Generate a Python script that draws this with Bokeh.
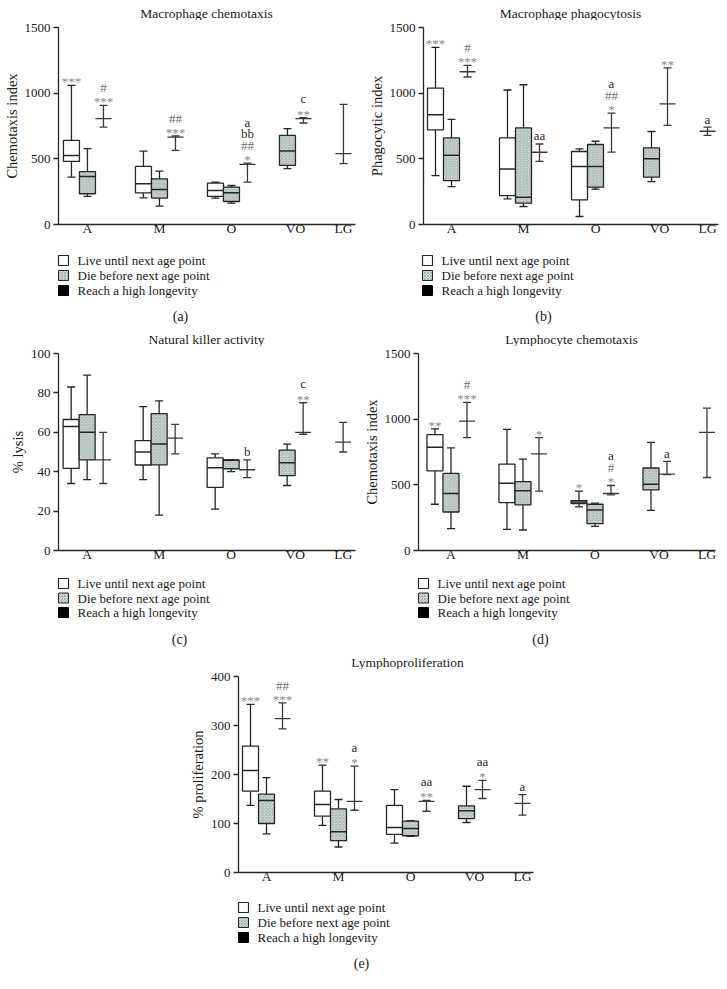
from bokeh.plotting import figure
from bokeh.models import Range1d, FixedTicker, Spacer, ColumnDataSource
from bokeh.layouts import row, column
from bokeh.core.properties import value
from bokeh.embed import file_html
from bokeh.resources import INLINE

SERIF = "Liberation Serif"

GROUPS = ["A", "M", "O", "VO", "LG"]
TICK_POS = [1, 5.5, 10, 14, 17]
GROUP_BASE = {"A": 0.0, "M": 4.5, "O": 9.0, "VO": 12.5, "LG": 15.0}
SERIES_OFFSET = {"live": 0, "die": 1, "long": 2}
LEGEND_LABELS = ["Live until next age point", "Die before next age point", "Reach a high longevity"]

# ---------------- (a) Macrophage chemotaxis ----------------
A_LIVE = dict(group=["A", "M", "O"], low=[361, 203, 201], q1=[480, 241, 214],
              med=[526, 310, 259], q3=[640, 442, 315], high=[1060, 559, 323])
A_DIE = dict(group=["A", "M", "O", "VO"], low=[214, 140, 163, 425], q1=[234, 201, 175, 450],
             med=[365, 267, 241, 559], q3=[402, 348, 285, 679], high=[577, 407, 297, 730])
A_LONG = dict(group=["A", "M", "O", "VO", "LG"], mean=[806, 666, 458, 806, 539],
              low=[742, 564, 323, 773, 463], high=[907, 674, 468, 813, 915])
A_MARKS = [("A", "live", ["***"]), ("A", "long", ["***", "#"]), ("M", "long", ["***", "##"]),
           ("O", "long", ["*", "##", "bb", "a"]), ("VO", "long", ["**", "c"])]

# ---------------- (b) Macrophage phagocytosis ----------------
B_LIVE = dict(group=["A", "M", "O"], low=[372, 195, 61], q1=[720, 220, 188],
              med=[836, 423, 441], q3=[1039, 659, 556], high=[1348, 1024, 576])
B_DIE = dict(group=["A", "M", "O", "VO"], low=[289, 137, 269, 327], q1=[334, 162, 284, 360],
             med=[527, 208, 441, 500], q3=[659, 735, 609, 584], high=[801, 1064, 634, 708])
B_LONG = dict(group=["A", "M", "O", "VO", "LG"], mean=[1163, 550, 736, 919, 710],
              low=[1123, 481, 551, 754, 678], high=[1211, 613, 848, 1193, 741])
B_MARKS = [("A", "live", ["***"]), ("A", "long", ["***", "#"]), ("M", "long", ["aa"]),
           ("O", "long", ["*", "##", "a"]), ("VO", "long", ["**"]), ("LG", "long", ["a"])]

# ---------------- (c) Natural killer activity ----------------
C_LIVE = dict(group=["A", "M", "O"], low=[34, 36, 21], q1=[41.7, 43.4, 32],
              med=[63, 50, 42], q3=[66.5, 55.8, 47], high=[83, 73, 49])
C_DIE = dict(group=["A", "M", "O", "VO"], low=[36, 18, 40, 33], q1=[46, 43.5, 41.5, 38],
             med=[60, 54, 45.8, 44.5], q3=[69, 69.5, 46, 51], high=[89, 76, 46, 54])
C_LONG = dict(group=["A", "M", "O", "VO", "LG"], mean=[46, 57, 41, 60, 55],
              low=[34, 49, 37, 59, 50], high=[60, 64, 46, 75, 65])
C_MARKS = [("O", "long", ["b"]), ("VO", "long", ["**", "c"])]

# ---------------- (d) Lymphocyte chemotaxis ----------------
D_LIVE = dict(group=["A", "M", "O"], low=[352, 161, 332], q1=[607, 365, 358],
              med=[786, 513, 370], q3=[883, 658, 380], high=[926, 923, 452])
D_DIE = dict(group=["A", "M", "O", "VO"], low=[166, 156, 184, 306], q1=[293, 347, 204, 462],
             med=[434, 454, 309, 505], q3=[587, 525, 352, 628], high=[781, 696, 360, 824])
D_LONG = dict(group=["A", "M", "O", "VO", "LG"], mean=[985, 735, 434, 582, 900],
              low=[860, 452, 423, 577, 556], high=[1128, 860, 495, 679, 1084])
D_MARKS = [("A", "live", ["**"]), ("A", "long", ["***", "#"]), ("M", "long", ["*"]),
           ("O", "live", ["*"]), ("O", "long", ["*", "#", "a"]), ("VO", "long", ["a"])]

# ---------------- (e) Lymphoproliferation ----------------
E_LIVE = dict(group=["A", "M", "O"], low=[137, 96, 60], q1=[166, 115, 78],
              med=[208, 139, 92], q3=[258, 166, 137], high=[343, 219, 169])
E_DIE = dict(group=["A", "M", "O", "VO"], low=[79, 52, 74, 102], q1=[100, 65, 75, 110],
             med=[147, 83, 90, 126], q3=[160, 130, 105, 136], high=[193.5, 149, 106, 176])
E_LONG = dict(group=["A", "M", "O", "VO", "LG"], mean=[314, 145, 145, 169, 141],
              low=[293, 127, 125, 151, 117], high=[346, 217, 147, 188, 159])
E_MARKS = [("A", "live", ["***"]), ("A", "long", ["***", "##"]), ("M", "live", ["**"]),
           ("M", "long", ["*", "a"]), ("O", "long", ["**", "aa"]), ("VO", "long", ["*", "aa"]),
           ("LG", "long", ["a"])]

# ---------------- styles ----------------
LINE = "#262626"
BAR = "#3a3a3a"
HATCH_FILL = "#d6dfdb"
HATCH_COLOR = "#6d7d76"
STAR_COLOR = "#8a8a8a"
HASH_COLOR = "#6e6e6e"
LETTER_COLOR = "#2a2a2a"
TEXT = "#1a1a1a"
PX_PER_UNIT = 16.0


def xpos(group, series):
    return GROUP_BASE[group] + SERIES_OFFSET[series]


def draw_boxes(p, d, series, hatched):
    xs = [xpos(g, series) for g in d["group"]]
    src = ColumnDataSource(dict(
        x=xs, l=[x - 0.5 for x in xs], r=[x + 0.5 for x in xs],
        cl=[x - 0.25 for x in xs], cr=[x + 0.25 for x in xs],
        low=d["low"], q1=d["q1"], med=d["med"], q3=d["q3"], high=d["high"]))
    p.segment("x", "q3", "x", "high", source=src, line_color=LINE, line_width=1.3)
    p.segment("x", "low", "x", "q1", source=src, line_color=LINE, line_width=1.3)
    p.segment("cl", "high", "cr", "high", source=src, line_color=LINE, line_width=1.3)
    p.segment("cl", "low", "cr", "low", source=src, line_color=LINE, line_width=1.3)
    if hatched:
        p.quad(left="l", right="r", bottom="q1", top="q3", source=src, fill_color=HATCH_FILL,
               hatch_pattern="diagonal_cross", hatch_scale=3.5, hatch_color=HATCH_COLOR,
               hatch_alpha=0.45, hatch_weight=1.0, line_color=LINE, line_width=1.3)
    else:
        p.quad(left="l", right="r", bottom="q1", top="q3", source=src, fill_color="white",
               line_color=LINE, line_width=1.3)
    p.segment("l", "med", "r", "med", source=src, line_color=LINE, line_width=1.5)


def draw_long(p, d):
    xs = [xpos(g, "long") for g in d["group"]]
    src = ColumnDataSource(dict(
        x=xs, l=[x - 0.5 for x in xs], r=[x + 0.5 for x in xs],
        cl=[x - 0.25 for x in xs], cr=[x + 0.25 for x in xs],
        low=d["low"], mean=d["mean"], high=d["high"]))
    p.segment("x", "low", "x", "high", source=src, line_color=BAR, line_width=1.3)
    p.segment("cl", "high", "cr", "high", source=src, line_color=BAR, line_width=1.3)
    p.segment("cl", "low", "cr", "low", source=src, line_color=BAR, line_width=1.3)
    p.segment("l", "mean", "r", "mean", source=src, line_color=BAR, line_width=1.3)


def draw_marks(p, marks, live, die, long_):
    tops = {}
    for d, s in ((live, "live"), (die, "die"), (long_, "long")):
        for g, h in zip(d["group"], d["high"]):
            tops[(g, s)] = h
    xs, ys, txt, off, col = [], [], [], [], []
    for g, s, lines in marks:
        for i, t in enumerate(lines):
            xs.append(xpos(g, s))
            ys.append(tops[(g, s)])
            txt.append(t)
            o = -(7.0 + 10.8 * i)
            if "*" in t:
                o += 3.5
                col.append(STAR_COLOR)
            elif "#" in t:
                col.append(HASH_COLOR)
            else:
                o -= 1.0
                col.append(LETTER_COLOR)
            off.append(o)
    src = ColumnDataSource(dict(x=xs, y=ys, t=txt, o=off, c=col))
    p.text("x", "y", text="t", y_offset="o", text_color="c", source=src,
           text_font=value(SERIF), text_font_size="13px", text_align="center",
           text_baseline="middle")


def blank_figure(width, height):
    q = figure(width=width, height=height, output_backend="svg", toolbar_location=None,
               title=None, frame_align=False,
               x_range=Range1d(0, width), y_range=Range1d(height, 0),
               x_axis_location=None, y_axis_location=None,
               min_border_left=0, min_border_right=0, min_border_top=0, min_border_bottom=0)
    q.outline_line_color = None
    q.xgrid.visible = False
    q.ygrid.visible = False
    q.background_fill_color = "white"
    q.border_fill_color = "white"
    return q


def make_title(width, height, text, cx, cy):
    q = blank_figure(width, height)
    q.text(x=[cx], y=[cy], text=[text], text_font=value(SERIF), text_font_size="13.5px",
           text_baseline="middle", text_align="center", text_color=TEXT)
    return q


def make_panel(ylabel, yend, yticks, live, die, long_, marks,
               width, left, right, top, frame_h, bottom, x_start):
    height = top + frame_h + bottom
    frame_w = width - left - right
    p = figure(width=width, height=height, output_backend="svg", toolbar_location=None,
               title=None, frame_align=False,
               x_range=Range1d(x_start, x_start + frame_w / PX_PER_UNIT),
               y_range=Range1d(0, yend),
               min_border_left=left, min_border_right=right,
               min_border_top=top, min_border_bottom=bottom)
    p.outline_line_color = None
    p.xgrid.visible = False
    p.ygrid.visible = False
    p.background_fill_color = "white"
    p.border_fill_color = "white"

    ya = p.yaxis[0]
    ya.ticker = FixedTicker(ticks=yticks)
    ya.axis_label = ylabel
    ya.axis_label_text_font = SERIF
    ya.axis_label_text_font_size = "14.5px"
    ya.axis_label_text_font_style = "normal"
    ya.axis_label_text_color = TEXT
    ya.axis_label_standoff = 2
    ya.major_label_text_font = SERIF
    ya.major_label_text_font_size = "13px"
    ya.major_label_text_color = TEXT
    ya.major_label_standoff = 3
    ya.major_tick_out = 5
    ya.major_tick_in = 0
    ya.minor_tick_line_color = None
    ya.axis_line_color = LINE
    ya.major_tick_line_color = LINE
    ya.axis_line_width = 1.3
    ya.major_tick_line_width = 1.3

    xa = p.xaxis[0]
    xa.ticker = FixedTicker(ticks=TICK_POS)
    xa.major_label_overrides = {t: g for t, g in zip(TICK_POS, GROUPS)}
    xa.major_label_text_font = SERIF
    xa.major_label_text_font_size = "13.5px"
    xa.major_label_text_color = TEXT
    xa.major_label_standoff = -4
    xa.major_tick_out = 0
    xa.major_tick_in = 0
    xa.major_tick_line_color = None
    xa.minor_tick_line_color = None
    xa.axis_line_color = LINE
    xa.axis_line_width = 1.3

    draw_boxes(p, live, "live", False)
    draw_boxes(p, die, "die", True)
    draw_long(p, long_)
    draw_marks(p, marks, live, die, long_)
    return p


def make_legend(width, height, sq_x, rows_y, caption, cap_x, cap_y):
    q = blank_figure(width, height)
    half = 5
    q.quad(left=[sq_x], right=[sq_x + 10], top=[rows_y[0] - half], bottom=[rows_y[0] + half],
           fill_color="white", line_color=LINE, line_width=1.2)
    q.quad(left=[sq_x], right=[sq_x + 10], top=[rows_y[1] - half], bottom=[rows_y[1] + half],
           fill_color=HATCH_FILL, hatch_pattern="diagonal_cross", hatch_scale=3.0,
           hatch_color=HATCH_COLOR, hatch_alpha=0.45, hatch_weight=1.0,
           line_color=LINE, line_width=1.0)
    q.quad(left=[sq_x], right=[sq_x + 10], top=[rows_y[2] - half], bottom=[rows_y[2] + half],
           fill_color="black", line_color="black", line_width=1.0)
    q.text(x=[sq_x + 19] * 3, y=rows_y, text=LEGEND_LABELS, text_font=value(SERIF),
           text_font_size="13px", text_baseline="middle", text_align="left",
           text_color=TEXT)
    q.text(x=[cap_x], y=[cap_y], text=[caption], text_font=value(SERIF),
           text_font_size="14px", text_baseline="middle", text_align="center",
           text_color=TEXT)
    return q


# Row 1 (a, b): y 0..326
ta = make_title(360, 20, "Macrophage chemotaxis", 206, 13)
fa = make_panel("Chemotaxis index", 1500, [0, 500, 1000, 1500],
                A_LIVE, A_DIE, A_LONG, A_MARKS, 360, 58, 5, 7, 197, 26, -0.81)
la = make_legend(360, 76, 58, [10, 25, 40], "(a)", 180, 66)

tb = make_title(367, 20, "Macrophage phagocytosis", 210, 13)
fb = make_panel("Phagocytic index", 1500, [0, 500, 1000, 1500],
                B_LIVE, B_DIE, B_LONG, B_MARKS, 367, 63, 9, 7, 197, 26, -0.75)
lb = make_legend(367, 76, 62, [10, 25, 40], "(b)", 183, 66)

# Row 2 (c, d): y 326..648
tc = make_title(360, 20, "Natural killer activity", 206, 13)
fc = make_panel("% lysis", 100, [0, 20, 40, 60, 80, 100],
                C_LIVE, C_DIE, C_LONG, C_MARKS, 360, 58, 5, 7, 197, 26, -0.79)
lc = make_legend(360, 72, 58, [7, 21.5, 36], "(c)", 179, 63)

td = make_title(367, 20, "Lymphocyte chemotaxis", 211, 13)
fd = make_panel("Chemotaxis index", 1500, [0, 500, 1000, 1500],
                D_LIVE, D_DIE, D_LONG, D_MARKS, 367, 58, 12, 7, 197, 26, -1.03)
ld = make_legend(367, 72, 58, [7, 21.5, 36], "(d)", 180, 63)

# Row 3 (e): y 648..989
te = make_title(365, 21, "Lymphoproliferation", 227, 14)
fe = make_panel("% proliferation", 400, [0, 100, 200, 300, 400],
                E_LIVE, E_DIE, E_LONG, E_MARKS, 365, 58, 12, 7, 196, 26, -0.75)
le = make_legend(365, 91, 58, [9, 24, 39], "(e)", 181, 65)

layout = column(
    row(column(ta, fa, la, spacing=0), column(tb, fb, lb, spacing=0), spacing=0),
    row(column(tc, fc, lc, spacing=0), column(td, fd, ld, spacing=0), spacing=0),
    row(Spacer(width=180, height=341), column(te, fe, le, spacing=0), spacing=0),
    spacing=0,
)

open("out.html", "w").write(file_html(layout, INLINE))
